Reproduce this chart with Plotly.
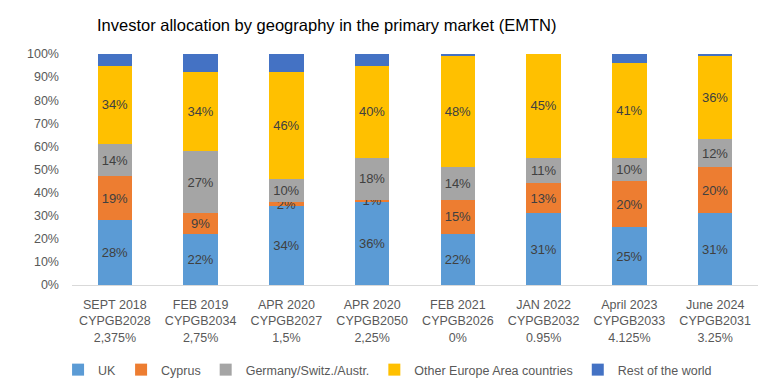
import plotly.graph_objects as go

categories = [
    "SEPT 2018<br>CYPGB2028<br>2,375%",
    "FEB 2019<br>CYPGB2034<br>2,75%",
    "APR 2020<br>CYPGB2027<br>1,5%",
    "APR 2020<br>CYPGB2050<br>2,25%",
    "FEB 2021<br>CYPGB2026<br>0%",
    "JAN 2022<br>CYPGB2032<br>0.95%",
    "April 2023<br>CYPGB2033<br>4.125%",
    "June 2024<br>CYPGB2031<br>3.25%",
]

uk = [28, 22, 34, 36, 22, 31, 25, 31]
cyprus = [19, 9, 2, 1, 15, 13, 20, 20]
germany = [14, 27, 10, 18, 14, 11, 10, 12]
other_europe = [34, 34, 46, 40, 48, 45, 41, 36]
rest_world = [5, 8, 8, 5, 1, 0, 4, 1]

series = [
    ("UK", uk, "#5B9BD5", True),
    ("Cyprus", cyprus, "#ED7D31", True),
    ("Germany/Switz./Austr.", germany, "#A5A5A5", True),
    ("Other Europe Area countries", other_europe, "#FFC000", True),
    ("Rest of the world", rest_world, "#4472C4", False),
]

FONT = "Liberation Sans, Arial, sans-serif"

# page body has an 8px default margin; size the figure so it fills the window
W, H = 772, 382

fig = go.Figure()
for name, vals, color, labelled in series:
    fig.add_trace(go.Bar(
        name=name,
        x=categories,
        y=vals,
        marker=dict(color=color, line=dict(width=0)),
        text=[f"{v}%" for v in vals] if labelled else None,
        textposition="inside" if labelled else "none",
        insidetextanchor="middle",
        textangle=0,
        constraintext="none",
        textfont=dict(family=FONT, size=13, color="#404040"),
        hoverinfo="skip",
    ))

fig.update_layout(
    width=W,
    height=H,
    barmode="stack",
    bargap=0.6,
    paper_bgcolor="white",
    plot_bgcolor="white",
    margin=dict(l=64, r=22, t=46, b=105, autoexpand=False),
    font=dict(family=FONT, color="#595959"),
    title=dict(
        text="Investor allocation by geography in the primary market (EMTN)",
        x=89 / W,
        xanchor="left",
        xref="container",
        y=1 - 17 / H,
        yanchor="middle",
        yref="container",
        font=dict(family=FONT, size=16.5, color="#000000"),
    ),
    xaxis=dict(
        showline=True,
        linecolor="#D9D9D9",
        linewidth=1,
        ticks="",
        showgrid=False,
        automargin=False,
        tickfont=dict(family=FONT, size=12.5, color="#595959"),
        ticklabelstandoff=8,
    ),
    yaxis=dict(
        range=[0, 100],
        dtick=10,
        ticksuffix="%",
        showgrid=False,
        zeroline=False,
        showline=False,
        ticks="",
        automargin=False,
        tickfont=dict(family=FONT, size=12.5, color="#595959"),
        ticklabelstandoff=12,
    ),
    legend=dict(
        orientation="h",
        x=0.46,
        xanchor="center",
        y=-0.368,
        yanchor="middle",
        font=dict(family=FONT, size=12.5, color="#595959"),
        traceorder="normal",
        itemwidth=30,
    ),
)

fig.write_html("out.html")
